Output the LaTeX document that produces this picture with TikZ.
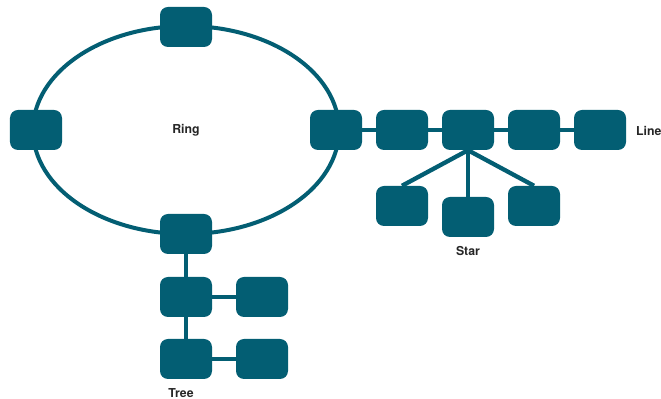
\documentclass[tikz,border=0pt]{standalone}
\usepackage{fontspec}
\setmainfont{TeX Gyre Heros}
\definecolor{netblue}{HTML}{035E73}
\usetikzlibrary{shapes.geometric}
\tikzset{
	hostnode/.style={
			rectangle,
			rounded corners=2.4mm,
			fill=netblue,
			draw=none,
			minimum width=15.6mm,
			minimum height=12mm,
			inner sep=0pt
		},
	ringnode/.style={
			ellipse,
			draw=netblue,
			line width=1.2mm,
			minimum width=91.8mm,
			minimum height=62.4mm,
			inner sep=0pt,
			text=black!85,
			font=\fontsize{10.5}{12}\selectfont\bfseries
		},
	link/.style={
			draw=netblue,
			line width=1.3mm
		},
	toplabel/.style={
			font=\fontsize{10.5}{12}\selectfont\bfseries,
			text=black!85
		}
}

\begin{document}
\begin{tikzpicture}[x=0.3mm, y=-0.3mm]
\useasboundingbox (0,0) rectangle (661,399);

% ring
\node[ringnode] (ring) at (186,130) {Ring};
\node[hostnode] (r1) at (186,27)  {};
\node[hostnode] (r2) at (36,130)  {};
\node[hostnode] (r3) at (336,130) {};
\node[hostnode] (r4) at (186,234) {};

% line
\node[hostnode] (l1) at (402,130) {};
\node[hostnode] (l2) at (468,130) {};
\node[hostnode] (l3) at (534,130) {};
\node[hostnode] (l4) at (600,130) {};
\node[toplabel, anchor=west] (linelabel) at (632,131) {Line};

\draw[link] (r3) -- (l1);
\draw[link] (l1) -- (l2);
\draw[link] (l2) -- (l3);
\draw[link] (l3) -- (l4);

% star
\node[hostnode] (s1) at (402,206) {};
\node[hostnode] (s2) at (468,217) {};
\node[hostnode] (s3) at (534,206) {};
\node[toplabel] (starlabel) at (468,251) {Star};

\draw[link] (l2.south) -- (s1.north);
\draw[link] (l2.south) -- (s2.north);
\draw[link] (l2.south) -- (s3.north);

% tree
\node[hostnode] (t1) at (186,297) {};
\node[hostnode] (t2) at (262,297) {};
\node[hostnode] (t3) at (186,359) {};
\node[hostnode] (t4) at (262,359) {};
\node[toplabel] (treelabel) at (181,393) {Tree};

\draw[link] (r4) -- (t1);
\draw[link] (t1) -- (t2);
\draw[link] (t1) -- (t3);
\draw[link] (t3) -- (t4);
\end{tikzpicture}
\end{document}
